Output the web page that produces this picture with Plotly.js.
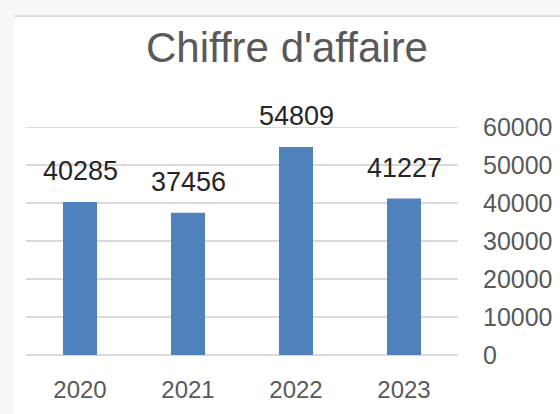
<!DOCTYPE html>
<html>
<head>
<meta charset="utf-8">
<script src="https://cdn.plot.ly/plotly-3.0.1.min.js"></script>
<style>
  html, body { margin: 0; padding: 0; background: #f7f7f7; width: 560px; height: 414px; overflow: hidden; }
  #chart { position: absolute; left: 14px; top: 15px; width: 546px; height: 397px; border-top: 2px solid #dcdcdc; background: #ffffff; }
</style>
</head>
<body>
<div id="chart"></div>
<script>
const categories = ["2020", "2021", "2022", "2023"];
const values = [40285, 37456, 54809, 41227];
const yTicks = [0, 10000, 20000, 30000, 40000, 50000, 60000];
const yTickLabels = ["0", "10000", "20000", "30000", "40000", "50000", "60000"];
const chartTitle = "Chiffre d'affaire";

const trace = {
  type: "bar",
  x: categories,
  y: values,
  marker: { color: "#4f81bd", line: { width: 0 } },
  hoverinfo: "none"
};

const annotations = categories.map((c, i) => ({
  x: i,
  y: values[i],
  xref: "x",
  yref: "y",
  text: String(values[i]),
  showarrow: false,
  yanchor: "middle",
  xanchor: "center",
  yshift: 31,
  font: { family: "Liberation Sans, Arial, sans-serif", size: 27, color: "#262626" }
}));

const layout = {
  width: 546,
  height: 397,
  margin: { l: 12, r: 102, t: 108, b: 59 },
  paper_bgcolor: "#ffffff",
  plot_bgcolor: "#ffffff",
  showlegend: false,
  bargap: 0.685,
  title: {
    text: chartTitle,
    x: 0.5,
    xanchor: "center",
    y: 1 - 30 / 397,
    yref: "container",
    yanchor: "middle",
    font: { family: "Liberation Sans, Arial, sans-serif", size: 42, color: "#595959" }
  },
  xaxis: {
    type: "category",
    range: [-0.5, 3.5],
    showgrid: false,
    showline: false,
    zeroline: false,
    ticks: "",
    ticklabelstandoff: 18,
    tickfont: { family: "Liberation Sans, Arial, sans-serif", size: 24, color: "#595959" }
  },
  yaxis: {
    side: "right",
    range: [0, 60600],
    tickmode: "array",
    tickvals: yTicks,
    ticktext: yTickLabels,
    showgrid: true,
    gridcolor: "#d9d9d9",
    gridwidth: 1.5,
    zeroline: true,
    zerolinecolor: "#d9d9d9",
    zerolinewidth: 1.5,
    showline: false,
    ticks: "",
    ticklabelstandoff: 24,
    tickfont: { family: "Liberation Sans, Arial, sans-serif", size: 25, color: "#595959" }
  },
  annotations: annotations
};

Plotly.newPlot("chart", [trace], layout, { displayModeBar: false, staticPlot: true });
</script>
</body>
</html>
